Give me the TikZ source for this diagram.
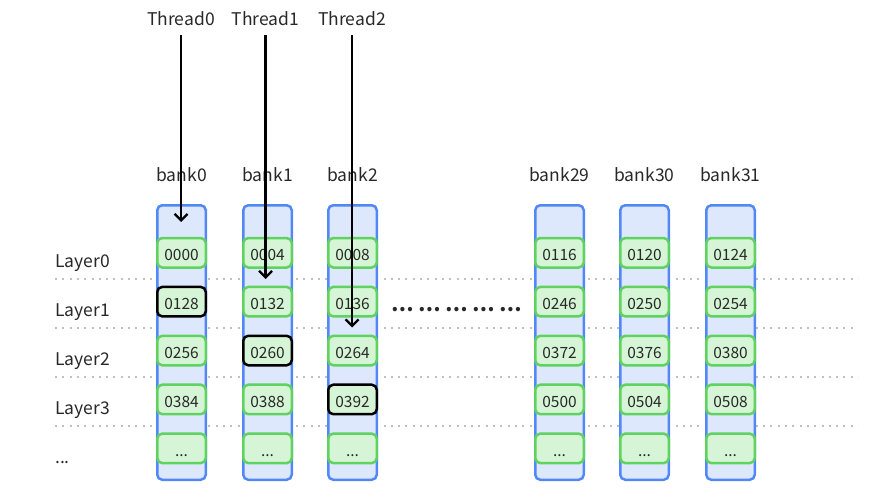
\documentclass[tikz,border=0pt]{standalone}
\usepackage{fontspec}
\setmainfont{Noto Sans CJK SC}
\usetikzlibrary{arrows.meta,positioning}
\definecolor{bankfill}{RGB}{222,232,252}
\definecolor{bankline}{RGB}{82,136,246}
\definecolor{cellfill}{RGB}{214,245,214}
\definecolor{cellline}{RGB}{96,210,96}
\definecolor{sepgray}{RGB}{192,192,192}
\definecolor{ink}{RGB}{40,40,40}
\begin{document}
\begin{tikzpicture}[x=1pt,y=-1pt]
  \tikzset{bank/.style={draw=bankline,fill=bankfill,line width=2.5pt,rounded corners=5pt,minimum width=\len,minimum height=274.5pt,inner sep=0pt},
    cell/.style={draw=cellline,fill=cellfill,line width=2.5pt,rounded corners=5pt,minimum width=\len,minimum height=29.5pt,inner sep=0pt,text height=16pt,text depth=0pt,font=\fontsize{15.5}{18}\selectfont,text=ink},
    hit/.style={cell,draw=black},
    lbl/.style={inner sep=0pt,font=\fontsize{17.5}{21}\selectfont,text=ink},
    sep/.style={draw=sepgray,line width=2pt,dash pattern=on 2pt off 5.3pt},
    thr/.style={-{Straight Barb[length=6.5pt,width=13pt]},line width=2.3pt,draw,shorten <=9pt}}
  \def\len{48.5pt}\def\gap{16.9pt}
  \useasboundingbox (0,0) rectangle (882,500);
  %layer lines
  \path[sep] (55,278.5) -- (858,278.5);
  \path[sep] (55,327.5) -- (858,327.5);
  \path[sep] (55,377) -- (858,377);
  \path[sep] (55,426) -- (858,426);
  %banks
  \node[bank] at (181.5,342.5) (B0) {};
  \node[bank] at (267.5,342.5) (B1) {};
  \node[bank] at (352.5,342.5) (B2) {};
  \node[bank] at (559.5,342.5) (B29) {};
  \node[bank] at (644.5,342.5) (B30) {};
  \node[bank] at (730.5,342.5) (B31) {};
  \node[lbl,anchor=base] at (B0.north)[yshift=23pt] (N0) {bank0};
  \node[lbl,anchor=base] at (B1.north)[yshift=23pt] (N1) {bank1};
  \node[lbl,anchor=base] at (B2.north)[yshift=23pt] (N2) {bank2};
  \node[lbl,anchor=base] at (B29.north)[yshift=23pt] (N29) {bank29};
  \node[lbl,anchor=base] at (B30.north)[yshift=23pt] (N30) {bank30};
  \node[lbl,anchor=base] at (B31.north)[yshift=23pt] (N31) {bank31};
  %cells
  \node[cell] at (B0.north)[yshift=-48.75pt] (c0a) {0000};
  \node[hit,below=\gap of c0a] (c0b) {0128};
  \node[cell,below=\gap of c0b] (c0c) {0256};
  \node[cell,below=\gap of c0c] (c0d) {0384};
  \node[cell,below=\gap of c0d] (c0e) {...};
  \node[cell] at (B1.north)[yshift=-48.75pt] (c1a) {0004};
  \node[cell,below=\gap of c1a] (c1b) {0132};
  \node[hit,below=\gap of c1b] (c1c) {0260};
  \node[cell,below=\gap of c1c] (c1d) {0388};
  \node[cell,below=\gap of c1d] (c1e) {...};
  \node[cell] at (B2.north)[yshift=-48.75pt] (c2a) {0008};
  \node[cell,below=\gap of c2a] (c2b) {0136};
  \node[cell,below=\gap of c2b] (c2c) {0264};
  \node[hit,below=\gap of c2c] (c2d) {0392};
  \node[cell,below=\gap of c2d] (c2e) {...};
  \node[cell] at (B29.north)[yshift=-48.75pt] (c29a) {0116};
  \node[cell,below=\gap of c29a] (c29b) {0246};
  \node[cell,below=\gap of c29b] (c29c) {0372};
  \node[cell,below=\gap of c29c] (c29d) {0500};
  \node[cell,below=\gap of c29d] (c29e) {...};
  \node[cell] at (B30.north)[yshift=-48.75pt] (c30a) {0120};
  \node[cell,below=\gap of c30a] (c30b) {0250};
  \node[cell,below=\gap of c30b] (c30c) {0376};
  \node[cell,below=\gap of c30c] (c30d) {0504};
  \node[cell,below=\gap of c30d] (c30e) {...};
  \node[cell] at (B31.north)[yshift=-48.75pt] (c31a) {0124};
  \node[cell,below=\gap of c31a] (c31b) {0254};
  \node[cell,below=\gap of c31b] (c31c) {0380};
  \node[cell,below=\gap of c31c] (c31d) {0508};
  \node[cell,below=\gap of c31d] (c31e) {...};
  \node[lbl,font=\fontsize{20}{22}\bfseries] at (456.5,309.5) (GAP) {… … … … …};
  %layer names
  \node[lbl,anchor=base west] at (55,267.5) (Y0) {Layer0};
  \node[lbl,anchor=base west] at (55,316.5) (Y1) {Layer1};
  \node[lbl,anchor=base west] at (55,365) (Y2) {Layer2};
  \node[lbl,anchor=base west] at (55,414) (Y3) {Layer3};
  \node[lbl,anchor=base west] at (55,463) (Y4) {...};
  %threads
  \node[lbl,anchor=base] at (181,26) (T0) {Thread0};
  \node[lbl,anchor=base] at (265.5,26) (T1) {Thread1};
  \node[lbl,anchor=base] at (352,26) (T2) {Thread2};
  \coordinate (T0end) at (181,222);
  \coordinate (T1end) at (265.5,279);
  \coordinate (T2end) at (352,327.5);
  \path[thr] (T0) -- (T0end);
  \path[thr] (T1) -- (T1end);
  \path[thr] (T2) -- (T2end);
\end{tikzpicture}
\end{document}
